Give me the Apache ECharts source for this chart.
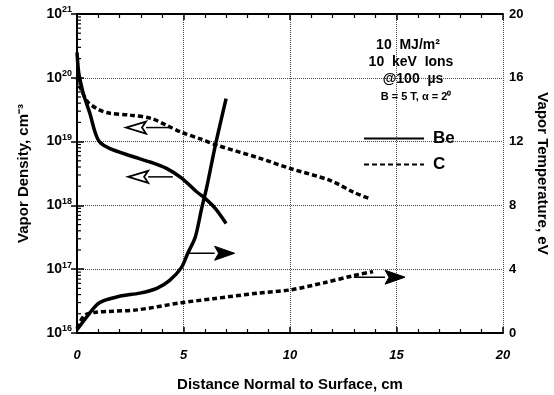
<!DOCTYPE html>
<html lang="en">
<head>
    <meta charset="UTF-8">
    <title>Vapor density and temperature</title>
    <script type="text/javascript" src="https://cdn.jsdelivr.net/npm/echarts@6/dist/echarts.min.js"></script>
    <style>
        html, body { margin: 0; padding: 0; background: #fff; }
    </style>
</head>
<body>
<div id="chart" style="width: 554px;height: 395px"></div>
<script type="text/javascript">
    // distance normal to surface (cm) / vapor density (cm^-3)
    var beDensX = [0, 0.05, 0.1, 0.3, 0.6, 0.85, 1.05, 1.5, 2.5, 3.5, 4.2, 4.9, 5.6, 6.0, 6.5, 7.0];
    var beDensY = [2.5e20, 1.5e20, 1.1e20, 5.6e19, 2.8e19, 1.4e19, 1.0e19, 7.9e18, 6.0e18, 4.7e18, 3.8e18, 2.7e18, 1.65e18, 1.3e18, 8.9e17, 5.2e17];
    var cDensX = [0, 0.2, 0.5, 1.0, 1.5, 2.5, 3.5, 4.2, 4.9, 5.8, 6.6, 8.5, 10, 11.9, 13, 13.8];
    var cDensY = [1.0e20, 6.5e19, 4.2e19, 3.2e19, 2.8e19, 2.6e19, 2.3e19, 1.8e19, 1.4e19, 1.1e19, 8.7e18, 5.6e18, 3.8e18, 2.45e18, 1.6e18, 1.25e18];
    // vapor temperature (eV)
    var beTempX = [0, 0.45, 1.05, 2.0, 2.95, 3.75, 4.35, 4.9, 5.2, 5.55, 5.85, 6.1, 6.5, 7.0];
    var beTempY = [0.2, 1.0, 1.9, 2.3, 2.5, 2.8, 3.3, 4.1, 5.0, 6.0, 7.8, 9.2, 11.8, 14.7];
    var cTempX = [0, 0.35, 0.9, 2.8, 4.9, 6.4, 8.5, 10, 11.6, 13, 13.9];
    var cTempY = [0.3, 1.1, 1.3, 1.45, 1.9, 2.15, 2.5, 2.7, 3.15, 3.6, 3.85];
    // arrows: [x start, y start, x end, y end]
    var densArrows = [[4.4, 1.66e19, 2.3, 1.66e19], [4.5, 2.8e18, 2.4, 2.8e18]];
    var tempArrows = [[5.2, 5.0, 7.4, 5.0], [13.0, 3.5, 15.4, 3.5]];
    var noteLines = ['10  MJ/m\u00b2', '10  keV  Ions', '@100  \u00b5s', 'B = 5 T, \u03b1 = 2\u2070'];
    var decades = [16, 17, 18, 19, 20];
    var minorMults = [2, 3, 4, 5, 6, 7, 8, 9];

    function pairs(xs, ys) {
        var out = [];
        for (var i = 0; i < xs.length; i++) {
            out.push([xs[i], ys[i]]);
        }
        return out;
    }

    // log minor ticks on the density axis
    var minorTicks = [];
    for (var d = 0; d < decades.length; d++) {
        for (var m = 0; m < minorMults.length; m++) {
            minorTicks.push([0, minorMults[m] * Math.pow(10, decades[d])]);
        }
    }

    function arrowItem(hollow) {
        return function (params, api) {
            var p1 = api.coord([api.value(0), api.value(1)]);
            var p2 = api.coord([api.value(2), api.value(3)]);
            var dir = p2[0] > p1[0] ? 1 : -1;
            var len = 20, half = hollow ? 6 : 7;
            var base = p2[0] - dir * len;
            return {
                type: 'group',
                children: [
                    {
                        type: 'line',
                        shape: { x1: p1[0], y1: p1[1], x2: base, y2: p2[1] },
                        style: { stroke: '#000', lineWidth: 1.5 }
                    },
                    {
                        type: 'polygon',
                        shape: { points: [[p2[0], p2[1]], [base, p2[1] - half], [base + dir * 4, p2[1]], [base, p2[1] + half]] },
                        style: hollow ? { fill: '#fff', stroke: '#000', lineWidth: 1.8 } : { fill: '#000', stroke: '#000', lineWidth: 1 }
                    }
                ]
            };
        };
    }

    var font = "'Liberation Sans', Arial, sans-serif";
    var chartDom = document.getElementById('chart');
    var myChart = echarts.init(chartDom);
    var noteGraphics = [];
    var noteX = [408, 411, 413, 416];
    var noteY = [45, 62, 79, 97];
    for (var i = 0; i < noteLines.length; i++) {
        noteGraphics.push({
            type: 'text',
            x: noteX[i],
            y: noteY[i],
            z: 10,
            style: {
                text: noteLines[i],
                align: 'center',
                verticalAlign: 'middle',
                font: 'bold ' + (i === 3 ? 11 : 14) + 'px ' + font,
                fill: '#000'
            }
        });
    }

    var option = {
        animation: false,
        backgroundColor: '#fff',
        textStyle: { fontFamily: font },
        grid: { left: 77, right: 51, top: 14, bottom: 62, outerBoundsMode: 'none' },
        legend: {
            orient: 'vertical',
            left: 358,
            top: 125,
            itemWidth: 60,
            itemHeight: 14,
            itemGap: 9,
            data: ['Be', 'C'],
            itemStyle: { opacity: 0 },
            textStyle: { fontSize: 17, fontWeight: 'bold', color: '#000', fontFamily: font, padding: [0, 0, 0, 4] }
        },
        graphic: noteGraphics,
        xAxis: [
            {
                type: 'value',
                min: 0,
                max: 20,
                interval: 5,
                name: 'Distance Normal to Surface, cm',
                nameLocation: 'middle',
                nameGap: 44,
                nameTextStyle: { fontSize: 15, fontWeight: 'bold', color: '#000' },
                axisLine: { lineStyle: { color: '#000', width: 2 } },
                axisTick: { inside: true, length: 6, lineStyle: { color: '#000', width: 1.5 } },
                minorTick: { show: true, splitNumber: 5, length: 4, lineStyle: { color: '#000', width: 1.2 } },
                axisLabel: { fontSize: 13, fontWeight: 'bold', fontStyle: 'italic', color: '#000', margin: 16 },
                splitLine: { show: true, lineStyle: { color: '#444', type: 'dotted', width: 1 } }
            },
            {
                type: 'value',
                position: 'top',
                min: 0,
                max: 20,
                interval: 5,
                axisLine: { lineStyle: { color: '#000', width: 2 } },
                axisTick: { inside: true, length: 6, lineStyle: { color: '#000', width: 1.5 } },
                minorTick: { show: true, splitNumber: 5, length: 4, lineStyle: { color: '#000', width: 1.2 } },
                axisLabel: { show: false },
                splitLine: { show: false }
            }
        ],
        yAxis: [
            {
                type: 'log',
                logBase: 10,
                min: 1e16,
                max: 1e21,
                name: 'Vapor Density, cm\u207b\u00b3',
                nameLocation: 'middle',
                nameGap: 46,
                nameTextStyle: { fontSize: 15, fontWeight: 'bold', color: '#000' },
                axisLine: { show: true, lineStyle: { color: '#000', width: 2 } },
                axisTick: { inside: true, length: 7, lineStyle: { color: '#000', width: 1.5 } },
                axisLabel: {
                    margin: 5,
                    formatter: function (v) {
                        return '{b|10}{s|' + Math.round(Math.log10(v)) + '}';
                    },
                    rich: {
                        b: { fontSize: 14, fontWeight: 'bold', color: '#000', fontFamily: font },
                        s: { fontSize: 9, fontWeight: 'bold', color: '#000', verticalAlign: 'top', padding: [0, 0, 8, 0], fontFamily: font }
                    }
                },
                splitLine: { show: true, lineStyle: { color: '#444', type: 'dotted', width: 1 } }
            },
            {
                type: 'value',
                min: 0,
                max: 20,
                interval: 4,
                position: 'right',
                name: 'Vapor Temperature, eV',
                nameLocation: 'middle',
                nameRotate: -90,
                nameGap: 30,
                nameTextStyle: { fontSize: 15, fontWeight: 'bold', color: '#000' },
                axisLine: { show: true, lineStyle: { color: '#000', width: 1.5 } },
                axisTick: { inside: true, length: 6, lineStyle: { color: '#000', width: 1.5 } },
                axisLabel: { fontSize: 13, fontWeight: 'bold', color: '#000', margin: 6 },
                splitLine: { show: false }
            }
        ],
        series: [
            {
                name: 'Be', type: 'line', yAxisIndex: 0, data: pairs(beDensX, beDensY),
                showSymbol: false, symbol: 'none', smooth: 0.3,
                itemStyle: { color: '#000' },
                lineStyle: { color: '#000', width: 3.5 }
            },
            {
                name: 'C', type: 'line', yAxisIndex: 0, data: pairs(cDensX, cDensY),
                showSymbol: false, symbol: 'none', smooth: 0.3,
                itemStyle: { color: '#000' },
                lineStyle: { color: '#000', width: 3.5, type: [5, 3] }
            },
            {
                name: 'Be', type: 'line', yAxisIndex: 1, data: pairs(beTempX, beTempY),
                showSymbol: false, symbol: 'none', smooth: 0.3,
                itemStyle: { color: '#000' },
                lineStyle: { color: '#000', width: 3.5 }
            },
            {
                name: 'C', type: 'line', yAxisIndex: 1, data: pairs(cTempX, cTempY),
                showSymbol: false, symbol: 'none', smooth: 0.3,
                itemStyle: { color: '#000' },
                lineStyle: { color: '#000', width: 3.5, type: [5, 3] }
            },
            {
                type: 'custom', yAxisIndex: 0, data: densArrows,
                renderItem: arrowItem(true), z: 5
            },
            {
                type: 'custom', yAxisIndex: 1, data: tempArrows,
                renderItem: arrowItem(false), z: 5
            },
            {
                type: 'custom', yAxisIndex: 0, data: minorTicks, silent: true,
                renderItem: function (params, api) {
                    var p = api.coord([api.value(0), api.value(1)]);
                    return {
                        type: 'line',
                        shape: { x1: p[0], y1: p[1], x2: p[0] + 4, y2: p[1] },
                        style: { stroke: '#000', lineWidth: 1.2 }
                    };
                }
            }
        ]
    };
    option && myChart.setOption(option);
</script>
</body>
</html>
